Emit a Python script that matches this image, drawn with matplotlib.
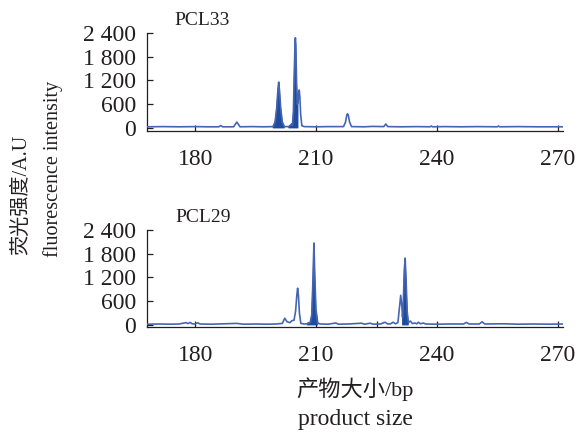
import numpy as np
import matplotlib
matplotlib.use("Agg")
import matplotlib.pyplot as plt

# ---------------- data ----------------
xticks = [180, 210, 240, 270]
yticks = [0, 600, 1200, 1800, 2400]
ytick_labels = ["0", "600", "1 200", "1 800", "2 400"]

pcl33_x = [168, 172, 176, 180, 183, 185.8, 186.3, 186.8, 189.5, 189.9, 190.3, 190.7, 191.1,
           194, 197, 199.3, 199.8, 200.2, 200.5, 200.7, 200.9, 201.2, 201.6, 202.1, 203.2,
           203.7, 203.9, 204.1, 204.35, 204.55, 204.75, 204.85, 204.95, 205.15, 205.35, 205.5,
           205.65, 205.8, 205.95, 206.15, 206.45, 207, 210, 213, 216.8, 217.3, 217.6, 217.8,
           218.0, 218.3, 218.8, 222, 224, 226.8, 227.3, 227.8, 231, 235, 238.3, 238.6, 238.9,
           242, 246, 250, 255, 255.3, 255.6, 260, 265, 271.3]
pcl33_y = [30, 35, 30, 35, 30, 30, 60, 30, 30, 90, 150, 90, 30,
           35, 30, 35, 150, 500, 950, 1160, 950, 500, 150, 35, 35,
           80, 100, 70, 400, 1300, 2150, 2280, 2100, 1100, 600, 650,
           880, 960, 800, 350, 60, 35, 30, 35, 35, 150, 320, 360,
           320, 150, 35, 30, 40, 35, 100, 35, 30, 35, 30, 50, 30,
           35, 30, 35, 30, 50, 30, 35, 30, 30]
pcl33_fill = [(199.3, 202.1), (203.2, 205.5)]

pcl29_x = [168, 171, 174, 176, 177.7, 178.2, 178.7, 179.2, 179.8, 180.6, 181.2, 184, 187,
           190.3, 192, 195, 198, 200, 201.6, 202.2, 202.8, 203.5, 204.0, 204.5, 204.9, 205.2,
           205.4, 205.6, 205.85, 206.2, 207, 207.8, 208.1, 208.5, 208.9, 209.2, 209.45, 209.65,
           209.95, 210.4, 211, 213, 214.9, 215.5, 218, 221.3, 222, 223.4, 224.2, 226, 227.1,
           227.8, 228.5, 229.1, 229.7, 230.3, 230.7, 231.0, 231.3, 231.45, 231.6, 231.9, 232.1,
           232.35, 232.6, 232.9, 233.4, 233.9, 234.5, 235.0, 235.4, 235.9, 236.6, 237.2, 240,
           243, 246.6, 247.3, 248, 250.5, 251.2, 251.9, 255.6, 257, 260, 264, 268, 271.3]
pcl29_y = [20, 25, 20, 25, 60, 35, 65, 30, 25, 55, 25, 20, 30,
           40, 20, 25, 20, 25, 40, 170, 80, 60, 110, 120, 350, 750,
           930, 750, 300, 40, 25, 30, 60, 50, 250, 1100, 2070, 1300,
           400, 50, 25, 20, 50, 20, 25, 45, 20, 45, 20, 25, 70,
           25, 30, 70, 30, 60, 450, 750, 450, 200, 450, 1400, 1690,
           1100, 350, 60, 100, 35, 50, 30, 70, 30, 50, 25, 20,
           25, 25, 65, 25, 25, 80, 25, 30, 30, 20, 25, 20, 25]
pcl29_fill = [(207.8, 210.4), (231.45, 232.9)]

# ---------------- style ----------------
LINE = "#4565b3"
FILL = "#1e4b9c"
TXT = "#231f20"
SERIF = ["Liberation Serif", "Noto Sans CJK SC"]
plt.rcParams["font.family"] = SERIF
plt.rcParams["text.color"] = TXT

fig = plt.figure(figsize=(5.87, 4.32), dpi=100)
W, H = 587.0, 432.0

def px_axes(l, r, t, b):
    return fig.add_axes([l / W, 1 - b / H, (r - l) / W, (b - t) / H])

ax1 = px_axes(147, 563, 33, 131)
ax2 = px_axes(147, 563, 230, 326.5)

def setup(ax, x, y, fills, ylow, extra_ticks):
    xa = np.array(x)
    ya = np.array(y)
    for a, b in fills:
        m = (xa >= a) & (xa <= b)
        px = np.concatenate([[xa[m][0]], xa[m], [xa[m][-1]]])
        py = np.concatenate([[0], ya[m], [0]])
        ax.fill(px, py, facecolor=FILL, edgecolor=FILL, lw=0.6, zorder=2)
    ax.plot(xa, ya, color=LINE, lw=1.2, zorder=3)
    ax.set_xlim(168, 271.3)
    ax.set_ylim(ylow, 2400)
    ax.set_xticks(xticks)
    ax.set_xticks(extra_ticks, minor=True)
    ax.set_yticks(yticks)
    ax.set_yticklabels(ytick_labels)
    for s in ["top", "right"]:
        ax.spines[s].set_visible(False)
    for s in ["left", "bottom"]:
        ax.spines[s].set_color(TXT)
        ax.spines[s].set_linewidth(0.9)
    ax.tick_params(axis="x", which="both", direction="in", length=4, width=0.9,
                   color=TXT, labelsize=17, pad=13, labelcolor=TXT)
    ax.tick_params(axis="y", direction="in", length=4, width=0.9,
                   color=TXT, labelsize=17, pad=8, labelcolor=TXT)
    for lab in ax.get_xticklabels() + ax.get_yticklabels():
        lab.set_family(SERIF)

setup(ax1, pcl33_x, pcl33_y, pcl33_fill, -76, [])
setup(ax2, pcl29_x, pcl29_y, pcl29_fill, -38, [225])

fig.text(174 / W, 1 - 25 / H, "PCL33", fontsize=14, va="baseline", ha="left")
fig.text(175 / W, 1 - 222 / H, "PCL29", fontsize=14, va="baseline", ha="left")

fig.text(22 / W, 1 - 255 / H, "荧光强度/A.U", rotation=90, fontsize=14.5,
         ha="center", va="bottom", family=SERIF)
fig.text(53 / W, 1 - 257 / H, "fluorescence intensity", rotation=90, fontsize=14.5,
         ha="center", va="bottom", family=SERIF)

fig.text(355 / W, 1 - 389 / H, "产物大小/bp", fontsize=16, ha="center", va="center",
         family=SERIF)
fig.text(355 / W, 1 - 425 / H, "product size", fontsize=17, ha="center", va="baseline",
         family=SERIF)

fig.savefig("out.png", dpi=100)
